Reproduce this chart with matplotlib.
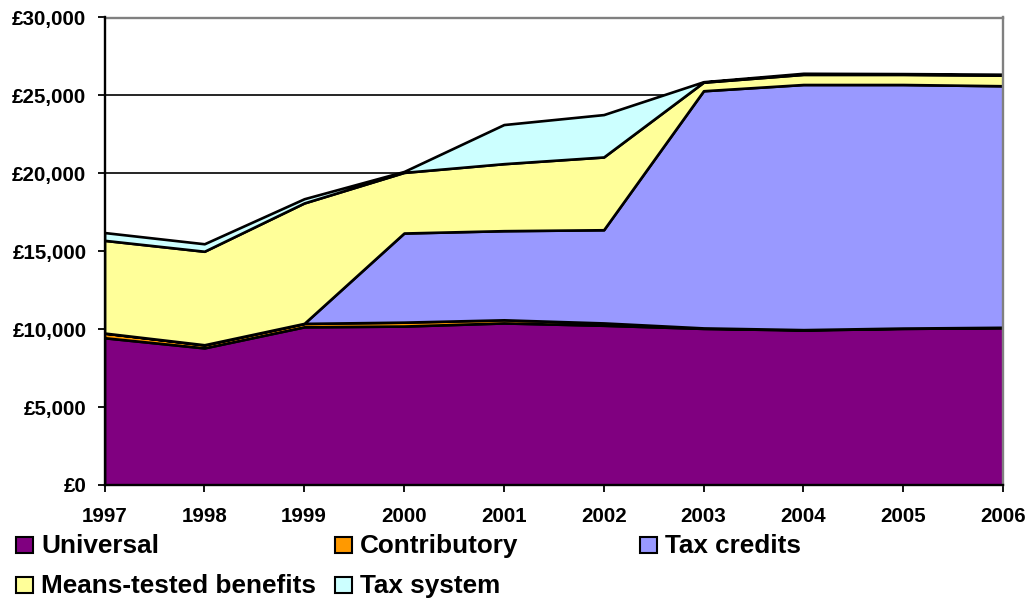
import matplotlib
matplotlib.use("Agg")
import matplotlib.pyplot as plt
from matplotlib.patches import Rectangle
from matplotlib.ticker import FuncFormatter, MultipleLocator

# Annual support by route (£), stacked
years = [1997, 1998, 1999, 2000, 2001, 2002, 2003, 2004, 2005, 2006]
universal = [9450, 8800, 10150, 10200, 10400, 10250, 10050, 9950, 10050, 10100]
contributory = [300, 200, 220, 250, 200, 150, 30, 20, 20, 20]
tax_credits = [0, 0, 0, 5720, 5720, 5980, 15220, 15730, 15630, 15500]
means_tested = [5950, 6000, 7730, 3890, 4300, 4670, 550, 650, 650, 680]
tax_system = [500, 480, 270, 60, 2510, 2720, 30, 70, 50, 60]

series_names = ["Universal", "Contributory", "Tax credits",
                "Means-tested benefits", "Tax system"]
series_colors = ["#800080", "#FF9900", "#9999FF", "#FFFF99", "#CCFFFF"]

plt.rcParams["font.family"] = ["Liberation Sans", "DejaVu Sans"]
plt.rcParams["font.weight"] = "bold"

W, H = 1030, 598
fig = plt.figure(figsize=(W / 100, H / 100), dpi=100)
ax = fig.add_axes([104.5 / W, 1 - 485 / H, (1003 - 104.5) / W, (485 - 17.5) / H])

ax.stackplot(years, universal, contributory, tax_credits, means_tested, tax_system,
             colors=series_colors, edgecolor="black", linewidth=1.9, zorder=2)

ax.set_xlim(years[0], years[-1])
ax.set_ylim(0, 30000)
ax.yaxis.set_major_locator(MultipleLocator(5000))
ax.yaxis.set_major_formatter(FuncFormatter(lambda v, p: f"£{int(v):,}"))
ax.set_xticks(years)
ax.set_xticklabels([str(y) for y in years])

ax.yaxis.grid(True, color="black", linewidth=1.2)
ax.set_axisbelow(True)

for side in ("left", "bottom"):
    ax.spines[side].set_color("black")
    ax.spines[side].set_linewidth(1.7)
    ax.spines[side].set_zorder(3)
for side in ("top", "right"):
    ax.spines[side].set_color("#808080")
    ax.spines[side].set_linewidth(1.7)

ax.tick_params(axis="y", direction="out", length=5, width=1.3, pad=8,
               labelsize=14.8)
ax.tick_params(axis="x", direction="out", length=5, width=1.3, pad=11,
               labelsize=14.8)
for lab in ax.get_xticklabels() + ax.get_yticklabels():
    lab.set_fontweight("bold")

# Legend laid out in fixed columns under the axis
legend_slots = [
    (16, 553), (335, 553), (640, 553),
    (16, 593), (335, 593),
]
for (px, base), name, col in zip(legend_slots, series_names, series_colors):
    fig.patches.append(Rectangle((px / W, 1 - base / H), 17 / W, 16 / H,
                                 transform=fig.transFigure, facecolor=col,
                                 edgecolor="black", linewidth=1.5))
    fig.text((px + 25) / W, 1 - base / H, name, fontsize=18.8,
             fontweight="bold", va="baseline", ha="left")

fig.savefig("out.png", dpi=100)
